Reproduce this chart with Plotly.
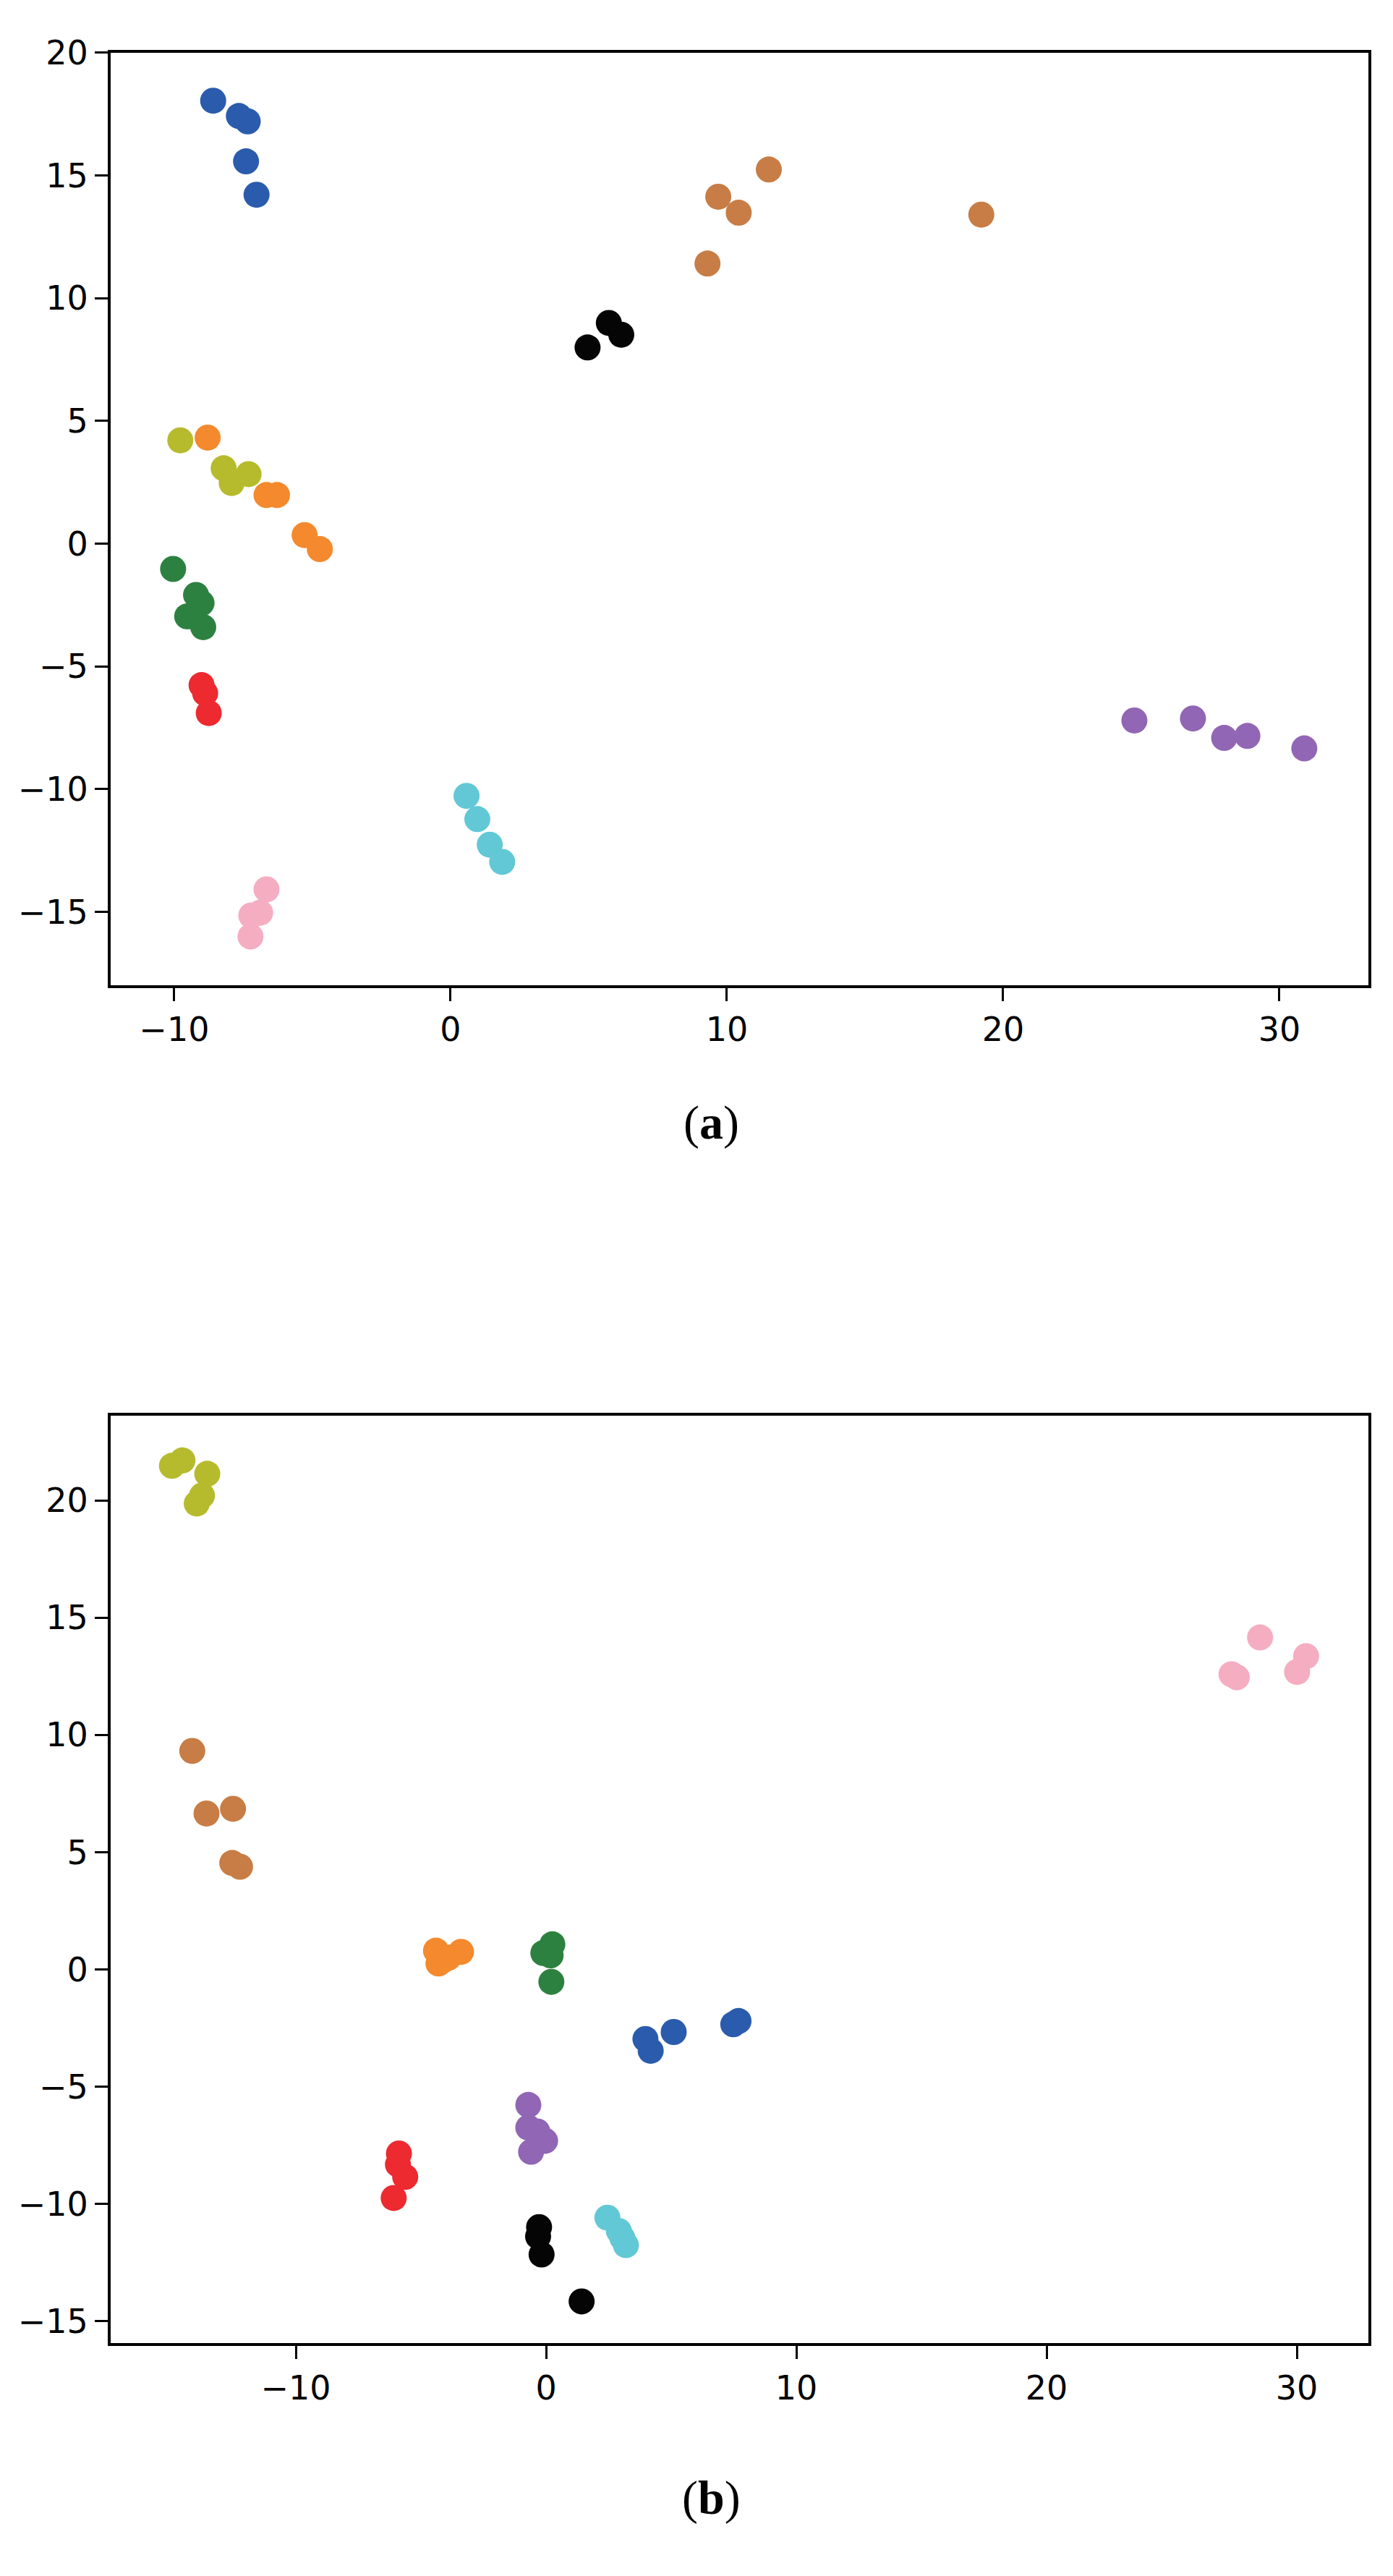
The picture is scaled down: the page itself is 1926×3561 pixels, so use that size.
import plotly.graph_objects as go

# page size and body margin of the default html page
PAGE_W, PAGE_H = 1926, 3561
BODY = 8
W, H = PAGE_W - 2 * BODY, PAGE_H - 2 * BODY

colors = {
    "blue": "#2b5bac",
    "brown": "#c77d45",
    "black": "#050505",
    "olive": "#b6bb2d",
    "orange": "#f4892d",
    "green": "#2d8140",
    "red": "#ec2a30",
    "cyan": "#62c8d6",
    "pink": "#f5adc1",
    "purple": "#9166b4",
}

# ---- panel (a) data ----
a_blue_x = [-8.59, -7.66, -7.34, -7.40, -7.02]
a_blue_y = [18.04, 17.42, 17.20, 15.57, 14.21]
a_brown_x = [11.52, 9.69, 10.43, 19.21, 9.30]
a_brown_y = [15.24, 14.13, 13.48, 13.40, 11.41]
a_black_x = [5.73, 6.18, 4.96]
a_black_y = [8.99, 8.51, 7.99]
a_olive_x = [-9.78, -8.21, -7.31, -7.92]
a_olive_y = [4.21, 3.07, 2.83, 2.47]
a_orange_x = [-8.79, -6.66, -6.28, -5.28, -4.73]
a_orange_y = [4.32, 1.98, 1.98, 0.35, -0.22]
a_green_x = [-10.04, -9.21, -9.01, -9.53, -8.95]
a_green_y = [-1.03, -2.09, -2.42, -2.96, -3.40]
a_red_x = [-9.01, -8.88, -8.75]
a_red_y = [-5.76, -6.09, -6.90]
a_cyan_x = [0.58, 0.97, 1.42, 1.87]
a_cyan_y = [-10.27, -11.22, -12.26, -12.96]
a_pink_x = [-6.66, -6.89, -7.21, -7.24]
a_pink_y = [-14.08, -15.03, -15.14, -16.00]
a_purple_x = [24.75, 26.87, 28.00, 28.84, 30.90]
a_purple_y = [-7.20, -7.12, -7.91, -7.83, -8.34]

# ---- panel (b) data ----
b_olive_x = [-14.95, -14.53, -13.54, -13.75, -13.96]
b_olive_y = [21.48, 21.71, 21.14, 20.21, 19.87]
b_brown_x = [-14.14, -13.57, -12.51, -12.54, -12.23]
b_brown_y = [9.32, 6.65, 6.85, 4.54, 4.38]
b_orange_x = [-4.40, -4.30, -3.90, -3.40, -4.10]
b_orange_y = [0.80, 0.25, 0.50, 0.75, 0.40]
b_green_x = [0.25, -0.11, 0.18, 0.21]
b_green_y = [1.07, 0.70, 0.60, -0.53]
b_blue_x = [3.97, 4.18, 5.10, 7.48, 7.69]
b_blue_y = [-2.97, -3.47, -2.67, -2.34, -2.20]
b_purple_x = [-0.71, -0.71, -0.35, -0.04, -0.60]
b_purple_y = [-5.78, -6.75, -6.91, -7.31, -7.78]
b_red_x = [-5.88, -5.92, -5.63, -6.09]
b_red_y = [-7.85, -8.32, -8.85, -9.75]
b_black_x = [-0.28, -0.32, -0.18, 1.42]
b_black_y = [-10.99, -11.39, -12.16, -14.16]
b_cyan_x = [2.45, 2.91, 3.05, 3.19]
b_cyan_y = [-10.59, -11.16, -11.46, -11.76]
b_pink_x = [28.53, 27.39, 27.60, 30.37, 30.01]
b_pink_y = [14.16, 12.59, 12.46, 13.36, 12.69]

x_ticks = [-10, 0, 10, 20, 30]
a_y_ticks = [-15, -10, -5, 0, 5, 10, 15, 20]
b_y_ticks = [-15, -10, -5, 0, 5, 10, 15, 20]

panel_a = [
    ("blue", a_blue_x, a_blue_y), ("brown", a_brown_x, a_brown_y),
    ("black", a_black_x, a_black_y), ("olive", a_olive_x, a_olive_y),
    ("orange", a_orange_x, a_orange_y), ("green", a_green_x, a_green_y),
    ("red", a_red_x, a_red_y), ("cyan", a_cyan_x, a_cyan_y),
    ("pink", a_pink_x, a_pink_y), ("purple", a_purple_x, a_purple_y),
]
panel_b = [
    ("olive", b_olive_x, b_olive_y), ("brown", b_brown_x, b_brown_y),
    ("orange", b_orange_x, b_orange_y), ("green", b_green_x, b_green_y),
    ("blue", b_blue_x, b_blue_y), ("purple", b_purple_x, b_purple_y),
    ("red", b_red_x, b_red_y), ("black", b_black_x, b_black_y),
    ("cyan", b_cyan_x, b_cyan_y), ("pink", b_pink_x, b_pink_y),
]

fig = go.Figure()
for name, xs, ys in panel_a:
    fig.add_trace(go.Scatter(x=xs, y=ys, mode="markers", xaxis="x", yaxis="y",
                             marker=dict(size=36, color=colors[name], line=dict(width=0)),
                             showlegend=False, name=name))
for name, xs, ys in panel_b:
    fig.add_trace(go.Scatter(x=xs, y=ys, mode="markers", xaxis="x2", yaxis="y2",
                             marker=dict(size=36, color=colors[name], line=dict(width=0)),
                             showlegend=False, name=name))


def px_x(p):
    # page pixel -> paper fraction
    return (p - BODY) / W


def px_y(p):
    return 1 - (p - BODY) / H


def minus(vals):
    return [str(v).replace("-", "\u2212") for v in vals]


tick_font = dict(family="DejaVu Sans", size=46, color="black")
common = dict(showgrid=False, zeroline=False, showline=True, linecolor="black",
              linewidth=4, mirror=True, ticks="outside", ticklen=18, tickwidth=3,
              tickcolor="black", tickfont=tick_font)

fig.update_layout(
    width=W, height=H,
    margin=dict(l=0, r=0, t=0, b=0),
    paper_bgcolor="white", plot_bgcolor="white",
    xaxis=dict(domain=[px_x(153), px_x(1892)], range=[-12.30, 33.22], anchor="y",
               tickvals=x_ticks, ticktext=minus(x_ticks), **common),
    yaxis=dict(domain=[px_y(1345), px_y(46)], range=[-17.98, 20.0], anchor="x",
               tickvals=a_y_ticks, ticktext=minus(a_y_ticks), **common),
    xaxis2=dict(domain=[px_x(153), px_x(1892)], range=[-17.40, 32.86], anchor="y2",
                tickvals=x_ticks, ticktext=minus(x_ticks), **common),
    yaxis2=dict(domain=[px_y(3237), px_y(1945)], range=[-15.95, 23.61], anchor="x2",
                tickvals=b_y_ticks, ticktext=minus(b_y_ticks), **common),
    annotations=[
        dict(text="(<b>a</b>)", x=px_x(983), y=px_y(1537), xref="paper", yref="paper",
             showarrow=False, xanchor="center", yanchor="middle",
             font=dict(family="Liberation Serif", size=66, color="black")),
        dict(text="(<b>b</b>)", x=px_x(983), y=px_y(3452), xref="paper", yref="paper",
             showarrow=False, xanchor="center", yanchor="middle",
             font=dict(family="Liberation Serif", size=66, color="black")),
    ],
)

fig.write_html("out.html")
